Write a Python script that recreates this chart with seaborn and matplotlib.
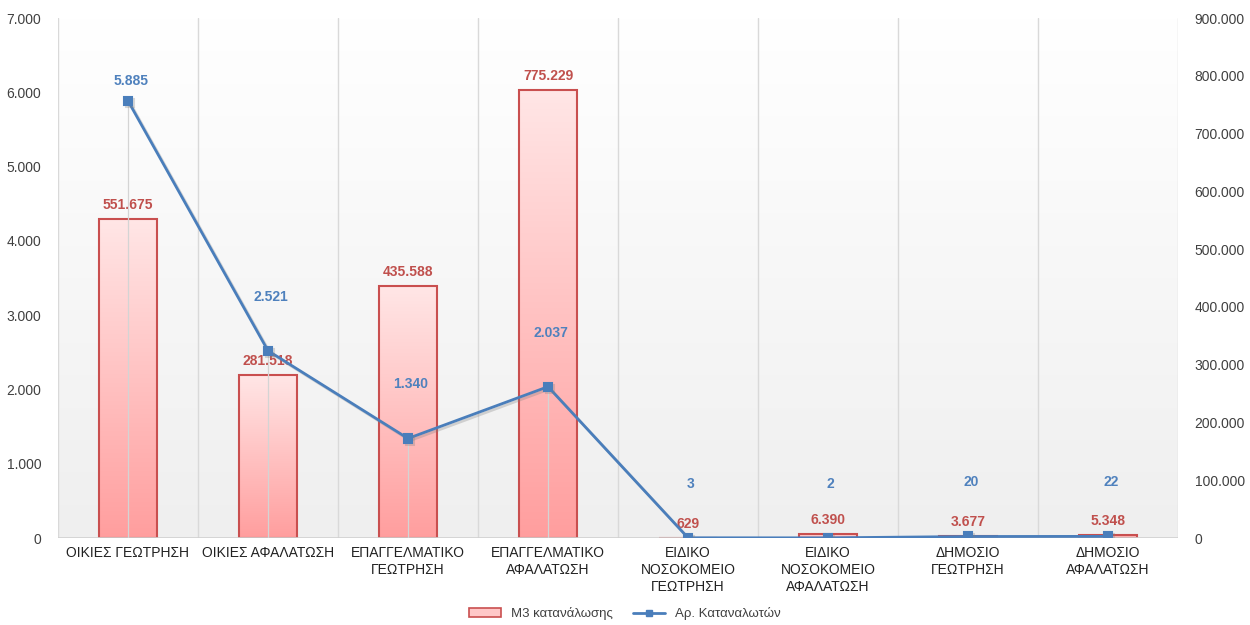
import numpy as np
import matplotlib
matplotlib.use("Agg")
import matplotlib.pyplot as plt
import matplotlib.patheffects as pe
from matplotlib.patches import Patch
from matplotlib.lines import Line2D
from matplotlib.colors import LinearSegmentedColormap
import seaborn as sns

categories = ["ΟΙΚΙΕΣ ΓΕΩΤΡΗΣΗ", "ΟΙΚΙΕΣ ΑΦΑΛΑΤΩΣΗ", "ΕΠΑΓΓΕΛΜΑΤΙΚΟ\nΓΕΩΤΡΗΣΗ",
              "ΕΠΑΓΓΕΛΜΑΤΙΚΟ\nΑΦΑΛΑΤΩΣΗ", "ΕΙΔΙΚΟ\nΝΟΣΟΚΟΜΕΙΟ\nΓΕΩΤΡΗΣΗ",
              "ΕΙΔΙΚΟ\nΝΟΣΟΚΟΜΕΙΟ\nΑΦΑΛΑΤΩΣΗ", "ΔΗΜΟΣΙΟ\nΓΕΩΤΡΗΣΗ", "ΔΗΜΟΣΙΟ\nΑΦΑΛΑΤΩΣΗ"]
m3_consumption = [551675, 281518, 435588, 775229, 629, 6390, 3677, 5348]
num_consumers = [5885, 2521, 1340, 2037, 3, 2, 20, 22]
left_ticks = [0, 1000, 2000, 3000, 4000, 5000, 6000, 7000]
right_ticks = [0, 100000, 200000, 300000, 400000, 500000, 600000, 700000, 800000, 900000]
line_label_offsets = [14, 39, 39, 39, 39, 39, 39, 39]  # points above marker

def fmt(v):
    return f"{int(v):,}".replace(",", ".")

sns.set_theme(style="white")
plt.rcParams['font.family'] = ['Liberation Sans', 'DejaVu Sans']

BAR_EDGE = "#c94f4f"
BAR_TXT = "#c0504d"
LINE_C = "#4a7ebb"
LINE_TXT = "#4f81bd"
GRID_C = "#d9d9d9"
TXT = "#404040"

fig = plt.figure(figsize=(12.5, 6.25), dpi=100)
ax = fig.add_axes([0.0464, 0.1392, 0.896, 0.832])

# bars (right scale) on primary axis
sns.barplot(x=list(range(len(categories))), y=m3_consumption, ax=ax, width=0.41,
            color="#ffc0c0", edgecolor=BAR_EDGE, linewidth=1.5, zorder=3)

# background gradient
bg = np.linspace(0, 1, 256).reshape(-1, 1)
bg_cmap = LinearSegmentedColormap.from_list("bg", ["#ffffff", "#efefef"])
ax.imshow(bg, extent=[0, 1, 0, 1], transform=ax.transAxes, aspect="auto",
          cmap=bg_cmap, origin="upper", zorder=0)

bar_cmap = LinearSegmentedColormap.from_list("bar", ["#ffe6e6", "#ff9e9e"])
for p in ax.patches:
    x, w, h = p.get_x(), p.get_width(), p.get_height()
    p.set_facecolor("none")
    im = ax.imshow(bg, extent=[x, x + w, 0, h], aspect="auto", cmap=bar_cmap,
                   origin="upper", zorder=2)
    im.set_clip_path(p)

for xb in np.arange(-0.5, len(categories), 1.0):
    ax.axvline(xb, color=GRID_C, lw=1, zorder=1)
for s in ax.spines.values():
    s.set_visible(False)
ax.axhline(0, color="#d0d0d0", lw=1.2, zorder=4)

for i, v in enumerate(m3_consumption):
    ax.annotate(fmt(v), (i, v), xytext=(0, 10), textcoords="offset points",
                ha="center", va="center", color=BAR_TXT, fontsize=10,
                fontweight="bold", zorder=6)

# line (left scale) on twin axis
ax2 = ax.twinx()
ax2.patch.set_visible(False)
sns.pointplot(x=list(range(len(categories))), y=num_consumers, ax=ax2, color=LINE_C,
              markers="s", markersize=6, linewidth=2.0, native_scale=True)
for ln in ax2.lines:
    ln.set_path_effects([pe.SimpleLineShadow(offset=(1.5, -1.5), shadow_color="gray", alpha=0.3),
                         pe.Normal()])
for i, v in enumerate(num_consumers):
    ax2.plot([i, i], [0, v], color="#d4d4d4", lw=0.9, zorder=1)
for s in ax2.spines.values():
    s.set_visible(False)
for i, v in enumerate(num_consumers):
    ax2.annotate(fmt(v), (i, v), xytext=(2, line_label_offsets[i]), textcoords="offset points",
                 ha="center", va="center", color=LINE_TXT, fontsize=10,
                 fontweight="bold", zorder=6)

# axes formatting (after twinx / pointplot)
ax.set_xlim(-0.5, len(categories) - 0.5)
ax.set_ylim(0, 900000)
ax.set_yticks(right_ticks)
ax.set_yticklabels([fmt(t) for t in right_ticks], color=TXT, fontsize=10)
ax.yaxis.tick_right()
ax.tick_params(axis="y", length=0, pad=12)
ax.set_xticks(range(len(categories)))
ax.set_xticklabels(categories, fontsize=10, color="#222222", linespacing=1.25)
ax.tick_params(axis="x", length=0, pad=6)

ax2.set_xlim(-0.5, len(categories) - 0.5)
ax2.set_ylim(0, 7000)
ax2.set_yticks(left_ticks)
ax2.set_yticklabels([fmt(t) for t in left_ticks], color=TXT, fontsize=10)
ax2.yaxis.tick_left()
ax2.tick_params(axis="y", length=0, pad=12)
ax2.set_ylabel("")
ax2.set_xlabel("")

handles = [Patch(facecolor="#ffc8c8", edgecolor=BAR_EDGE, linewidth=1.2, label="Μ3 κατανάλωσης"),
           Line2D([0], [0], color=LINE_C, lw=2.0, marker="s", markersize=5, label="Αρ. Καταναλωτών")]
fig.legend(handles=handles, loc="center", bbox_to_anchor=(0.5, 0.018), ncol=2, frameon=False,
           fontsize=9.5, handlelength=2.4, columnspacing=1.5, labelcolor=TXT)

fig.savefig("out.png", dpi=100)
